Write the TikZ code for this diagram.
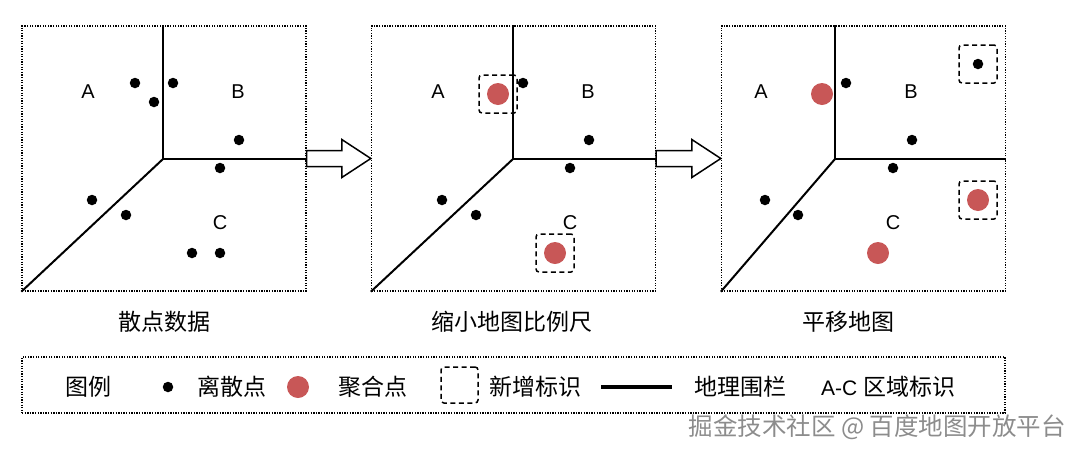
\documentclass[tikz,border=0pt]{standalone}
\usepackage{fontspec}
\setmainfont{Liberation Sans}
\newfontfamily\cjk{Noto Sans CJK SC}
\usetikzlibrary{positioning,calc}
\definecolor{aggRed}{HTML}{C85757}
\definecolor{markGray}{HTML}{8C8C8C}

\begin{document}
\begin{tikzpicture}[x=1pt, y=-1pt, every node/.style={font=\fontsize{20}{24}\selectfont},
  panel/.style={draw, dash pattern=on 1.3pt off 1.3pt, line width=1.4pt, minimum width=284pt, minimum height=265pt, inner sep=0pt},
  fence/.style={line width=2pt},
  scat/.style={circle, fill=black, inner sep=0pt, minimum size=10.5pt},
  agg/.style={circle, fill=aggRed, inner sep=0pt, minimum size=22pt},
  newbox/.style={draw, dash pattern=on 5pt off 3.5pt, line width=1.5pt, rounded corners=3pt, minimum size=38pt, inner sep=0pt},
  cntext/.style={font=\cjk\fontsize{23}{26}\selectfont, inner sep=0pt},
  blk/.style={draw, line width=1.5pt, fill=white, line join=miter}]
\useasboundingbox (0,0) rectangle (1080,456);
% three map panels
\node[panel] (p1) at (164,158.5) {};
\node[panel] (p2) at (513.5,158.5) {};
\node[panel] (p3) at (863.5,158.5) {};
\coordinate (j1) at (163,159); \coordinate (j2) at (513,159); \coordinate (j3) at (835,159);
\foreach \j/\p in {j1/p1,j2/p2,j3/p3} {
  \draw[fence] (\j) -- (\j |- \p.north); \draw[fence] (\j) -- (\j -| \p.east); \draw[fence] (\j) -- (\p.south west);
}
% scattered points
\foreach \x/\y [count=\i] in {135/83,173/83,154/102,239/140,220/168,92/200,126/215,192/253,220/253}
  \node[scat] (s1-\i) at (\x,\y) {};
\foreach \x/\y [count=\i] in {523/83,589/140,570/168,442/200,476/215}
  \node[scat] (s2-\i) at (\x,\y) {};
\foreach \x/\y [count=\i] in {846/83,912/140,893/168,765/200,798/215,978/64}
  \node[scat] (s3-\i) at (\x,\y) {};
% aggregated points
\node[agg] (a2-1) at (498,94) {};
\node[agg] (a2-2) at (555,253) {};
\node[agg] (a3-1) at (822,94) {};
\node[agg] (a3-2) at (878,253) {};
\node[agg] (a3-3) at (978,200) {};
% new marks
\node[newbox] (n2-1) at (a2-1) {};
\node[newbox] (n2-2) at (a2-2) {};
\node[newbox] (n3-1) at (s3-6) {};
\node[newbox] (n3-2) at (a3-3) {};
% region labels
\foreach \p/\dx in {1/0,2/350,3/673} {
  \node (ra\p) at (88+\dx,92) {A};
  \node (rb\p) at (238+\dx,92) {B};
  \node (rc\p) at (220+\dx,223) {C};
}
% panel captions
\node[cntext] (c1) at (164,322) {散点数据};
\node[cntext] (c2) at (512,322) {缩小地图比例尺};
\node[cntext] (c3) at (848,322) {平移地图};
% block arrows
\foreach \a/\b in {p1/p2,p2/p3}
  \draw[blk] ($(\a.east)+(0,-8)$) -- ($(\b.west)+(-29,-8)$) -- ($(\b.west)+(-29,-19)$) -- (\b.west)
    -- ($(\b.west)+(-29,19)$) -- ($(\b.west)+(-29,8)$) -- ($(\a.east)+(0,8)$) -- cycle;
% legend
\node[panel, minimum width=983pt, minimum height=56pt] (lg) at (513.5,385) {};
\node[cntext] (lt) at (88,387) {图例};
\node[scat] (ls) at (168,387) {};
\node[cntext] (lst) at (232,387) {离散点};
\node[agg] (la) at (298,387) {};
\node[cntext] (lat) at (373,387) {聚合点};
\node[newbox, minimum width=37pt, minimum height=36pt] (ln) at (459.5,385) {};
\node[cntext] (lnt) at (535,387) {新增标识};
\coordinate (l1) at (601,387); \coordinate (l2) at (672,387);
\draw[line width=3.5pt] (l1) -- (l2);
\node[cntext] (lft) at (740,387) {地理围栏};
\node[inner sep=0pt, anchor=west, font=\fontsize{21}{24}\selectfont] (lrt) at (821,387) {A-C {\cjk\fontsize{23}{26}\selectfont 区域标识}};
% watermark
\node[cntext, text=markGray, anchor=east, font=\cjk\fontsize{24.5}{28}\selectfont] (wm) at (1066,427) {掘金技术社区 @ 百度地图开放平台};
\end{tikzpicture}
\end{document}
